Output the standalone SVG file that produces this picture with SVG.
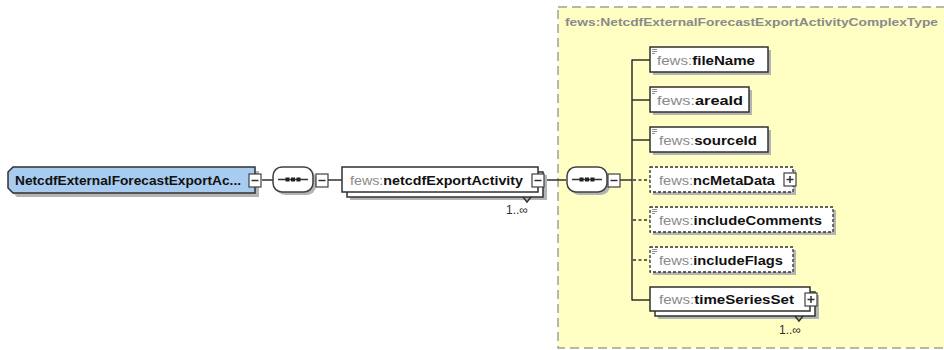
<svg xmlns="http://www.w3.org/2000/svg" width="944" height="350" viewBox="0 0 944 350">
<style>
.bg{fill:#ffffff}
.ct{fill:#ffffc4;stroke:#a0a0a0;stroke-width:1.5;stroke-dasharray:9,5}
.shadow{fill:#b4b4b4}
.box{fill:#ffffff;stroke:#303030;stroke-width:1.5}
.opt{fill:#ffffff;stroke:#303030;stroke-width:1.3;stroke-dasharray:3,2}
.root{fill:#a8cbf0;stroke:#303030;stroke-width:1.5}
.seq{fill:#ffffff;stroke:#404040;stroke-width:1.5}
.pm{fill:#ffffff;stroke:#404040;stroke-width:1.2}
.ln{stroke:#303030;stroke-width:1.5;fill:none}
.dl{stroke:#303030;stroke-width:1.5;fill:none;stroke-dasharray:3,2.5}
.t{font-family:"Liberation Sans",Arial,sans-serif;font-size:13px}
.ns{fill:#8a8a8a}
.nm{fill:#111111;font-weight:bold}
.ctl{font-family:"Liberation Sans",Arial,sans-serif;font-size:11.5px;fill:#8a8a8a;font-weight:bold}
.mult{font-family:"Liberation Sans",Arial,sans-serif;font-size:12px;fill:#303030}
.ic{stroke:#909090;stroke-width:1}
</style>
<defs>
<g id="minus"><rect class="pm" x="0" y="0" width="12" height="13"/><line class="ln" x1="2.5" y1="6.5" x2="9.5" y2="6.5" stroke-width="1.2"/></g>
<g id="plus"><rect class="pm" x="0" y="0" width="12" height="13"/><line class="ln" x1="2.5" y1="6.5" x2="9.5" y2="6.5" stroke-width="1.2"/><line class="ln" x1="6" y1="3" x2="6" y2="10" stroke-width="1.2"/></g>
<g id="seqshape"><rect class="shadow" x="3" y="3" width="40" height="25" rx="9"/><rect class="seq" x="0" y="0" width="40" height="25" rx="9"/><line class="ln" x1="5" y1="12.5" x2="35" y2="12.5" stroke-width="1.2"/><rect x="12.5" y="10.5" width="4" height="4" fill="#222"/><rect x="18" y="10.5" width="4" height="4" fill="#222"/><rect x="23.5" y="10.5" width="4" height="4" fill="#222"/></g>
<g id="icon"><line class="ic" x1="0" y1="0.5" x2="5" y2="0.5"/><line class="ic" x1="0" y1="2.5" x2="5" y2="2.5"/><line class="ic" x1="0" y1="4.5" x2="3" y2="4.5"/></g>
</defs>
<rect class="bg" x="0" y="0" width="944" height="350"/>
<g id="complexType">
<rect class="ct" x="558" y="7" width="400" height="341"/>
<text class="ctl" x="565" y="26" textLength="373" lengthAdjust="spacingAndGlyphs">fews:NetcdfExternalForecastExportActivityComplexType</text>
</g>
<g id="connectors">
<line class="ln" x1="262" y1="180" x2="273" y2="180"/>
<line class="ln" x1="328" y1="180" x2="342" y2="180"/>
<line class="ln" x1="545" y1="180" x2="566" y2="180"/>
<line class="ln" x1="620" y1="180" x2="632" y2="180"/>
<line class="ln" x1="632" y1="59.5" x2="632" y2="300.5"/>
<line class="ln" x1="632" y1="60" x2="650" y2="60"/>
<line class="ln" x1="632" y1="100" x2="650" y2="100"/>
<line class="ln" x1="632" y1="140" x2="650" y2="140"/>
<line class="dl" x1="633" y1="180" x2="650" y2="180"/>
<line class="dl" x1="633" y1="220" x2="650" y2="220"/>
<line class="dl" x1="633" y1="260" x2="650" y2="260"/>
<line class="ln" x1="632" y1="300" x2="650" y2="300"/>
</g>
<g id="root">
<polygon class="shadow" points="17,171 259,171 259,197 17,197 12,192 12,176"/>
<polygon class="root" points="13,167 255,167 255,193 13,193 8,188 8,172"/>
<text class="t nm" x="15" y="185" textLength="226" lengthAdjust="spacingAndGlyphs">NetcdfExternalForecastExportAc...</text>
<use href="#minus" x="249" y="174"/>
</g>
<g id="seq1">
<use href="#seqshape" x="273" y="167"/>
<use href="#minus" x="316" y="174"/>
</g>
<g id="netcdfExportActivity">
<rect class="shadow" x="350" y="175" width="197" height="25"/>
<rect class="box" x="347" y="172" width="196" height="25"/>
<rect class="box" x="342" y="167" width="196" height="25"/>
<text class="t" x="350" y="185" textLength="173" lengthAdjust="spacingAndGlyphs"><tspan class="ns">fews:</tspan><tspan class="nm">netcdfExportActivity</tspan></text>
<use href="#minus" x="532" y="174"/>
<polyline class="ln" points="523,197 527,202 531,197" stroke-width="1"/>
<text class="mult" x="506" y="214">1..∞</text>
</g>
<g id="seq2">
<use href="#seqshape" x="567" y="167"/>
<use href="#minus" x="608" y="174"/>
</g>
<g id="fileName">
<rect class="shadow" x="653" y="50" width="118" height="25"/>
<rect class="box" x="650" y="47" width="118" height="25"/>
<use href="#icon" x="652" y="49"/>
<text class="t" x="657" y="65" textLength="98" lengthAdjust="spacingAndGlyphs"><tspan class="ns">fews:</tspan><tspan class="nm">fileName</tspan></text>
</g>
<g id="areaId">
<rect class="shadow" x="653" y="90" width="99" height="25"/>
<rect class="box" x="650" y="87" width="99" height="25"/>
<use href="#icon" x="652" y="89"/>
<text class="t" x="657" y="105" textLength="86" lengthAdjust="spacingAndGlyphs"><tspan class="ns">fews:</tspan><tspan class="nm">areaId</tspan></text>
</g>
<g id="sourceId">
<rect class="shadow" x="653" y="130" width="118" height="25"/>
<rect class="box" x="650" y="127" width="118" height="25"/>
<use href="#icon" x="652" y="129"/>
<text class="t" x="659" y="145" textLength="98" lengthAdjust="spacingAndGlyphs"><tspan class="ns">fews:</tspan><tspan class="nm">sourceId</tspan></text>
</g>
<g id="ncMetaData">
<rect class="shadow" x="653" y="170" width="143" height="25"/>
<rect class="opt" x="650" y="167" width="143" height="25"/>
<text class="t" x="659" y="185" textLength="116" lengthAdjust="spacingAndGlyphs"><tspan class="ns">fews:</tspan><tspan class="nm">ncMetaData</tspan></text>
<use href="#plus" x="784" y="173"/>
</g>
<g id="includeComments">
<rect class="shadow" x="653" y="210" width="183" height="25"/>
<rect class="opt" x="650" y="207" width="183" height="25"/>
<use href="#icon" x="652" y="209"/>
<text class="t" x="659" y="225" textLength="163" lengthAdjust="spacingAndGlyphs"><tspan class="ns">fews:</tspan><tspan class="nm">includeComments</tspan></text>
</g>
<g id="includeFlags">
<rect class="shadow" x="653" y="250" width="143" height="25"/>
<rect class="opt" x="650" y="247" width="143" height="25"/>
<use href="#icon" x="652" y="249"/>
<text class="t" x="659" y="265" textLength="124" lengthAdjust="spacingAndGlyphs"><tspan class="ns">fews:</tspan><tspan class="nm">includeFlags</tspan></text>
</g>
<g id="timeSeriesSet">
<rect class="shadow" x="658" y="295" width="161" height="24"/>
<rect class="box" x="655" y="292" width="160" height="24"/>
<rect class="box" x="650" y="287" width="160" height="24"/>
<text class="t" x="659" y="304" textLength="135" lengthAdjust="spacingAndGlyphs"><tspan class="ns">fews:</tspan><tspan class="nm">timeSeriesSet</tspan></text>
<use href="#plus" x="805" y="293"/>
<polyline class="ln" points="795,316 799,321 803,316" stroke-width="1"/>
<text class="mult" x="779" y="334">1..∞</text>
</g>
</svg>
